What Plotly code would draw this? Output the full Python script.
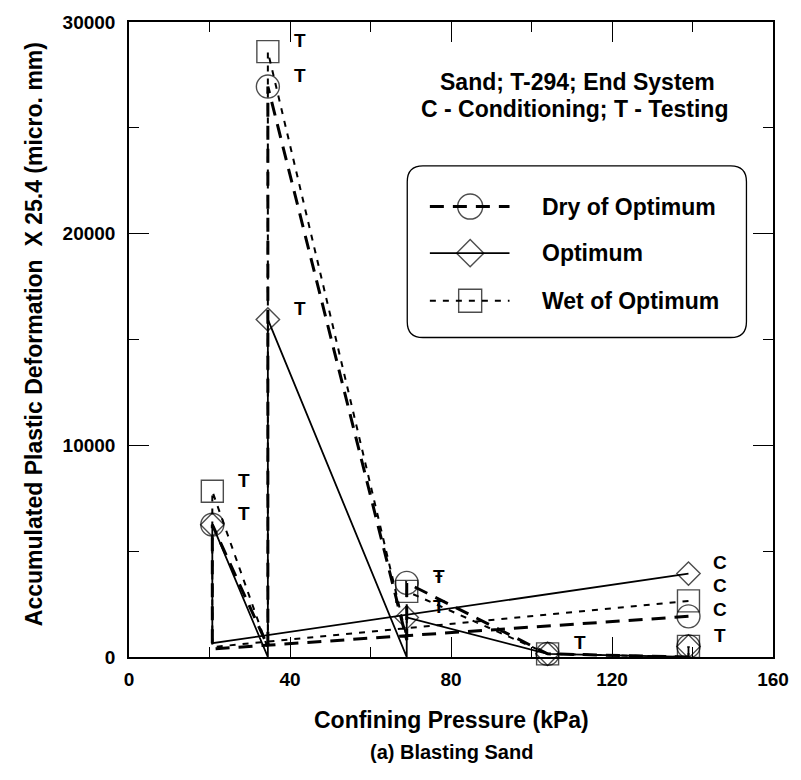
import plotly.graph_objects as go

# ---------------- data ----------------
# Each series is the test path: conditioning point (C) at the highest
# confining pressure, then start / end (T) of each testing sequence.
DRY_X = [139.0, 20.7, 20.7, 34.5, 34.5, 69.0, 69.0, 104.0, 139.0, 139.0]
DRY_Y = [1920, 380, 6250, 500, 26950, 800, 3500, 150, 0, 500]
DRY_TAG = ["C", "", "T", "", "T", "", "T", "T", "", "T"]

OPT_X = [139.0, 20.7, 20.7, 34.5, 34.5, 69.0, 69.0, 104.0, 139.0, 139.0]
OPT_Y = [3940, 650, 6250, 0, 15950, 0, 1870, 150, 0, 500]
OPT_TAG = ["C", "", "T", "", "T", "", "T", "T", "", "T"]

WET_X = [139.0, 20.7, 20.7, 34.5, 34.5, 69.0, 69.0, 104.0, 139.0, 139.0]
WET_Y = [2650, 470, 7830, 400, 28600, 900, 3100, 150, 0, 500]
WET_TAG = ["C", "", "T", "", "T", "", "T", "T", "", "T"]

SERIES_NAMES = ["Dry of Optimum", "Optimum", "Wet of Optimum"]
X_TICKS = [0, 40, 80, 120, 160]
Y_TICKS = [0, 10000, 20000, 30000]
X_RANGE = [0, 160]
Y_RANGE = [0, 30000]

# ---------------- styling ----------------
FONT = "Liberation Sans, Arial, Helvetica, sans-serif"
W, H = 801, 780
L, R, T, B = 129, 17, 17, 123  # plot area 129..784 x 17..657
PW, PH = W - L - R, H - T - B

styles = [
    dict(dash="14px,9px", width=3.0, symbol="circle-open", size=23),
    dict(dash="solid", width=1.8, symbol="diamond-open", size=18),
    dict(dash="6px,7px", width=2.0, symbol="square-open", size=22),
]
series = [(DRY_X, DRY_Y, DRY_TAG), (OPT_X, OPT_Y, OPT_TAG), (WET_X, WET_Y, WET_TAG)]

def ypx(v):
    return T + PH * (1 - (v - Y_RANGE[0]) / (Y_RANGE[1] - Y_RANGE[0]))

fig = go.Figure()
labels = []
for (xs, ys, tags), st, name in zip(series, styles, SERIES_NAMES):
    fig.add_trace(go.Scatter(
        x=xs, y=ys, mode="lines+markers", name=name, showlegend=False,
        line=dict(color="black", width=st["width"], dash=st["dash"]),
        marker=dict(symbol=st["symbol"],
                    size=[st["size"] if t else 0 for t in tags],
                    color="black", line=dict(color="black", width=1.4)),
        cliponaxis=False,
    ))
    for x, y, t in zip(xs, ys, tags):
        if t:
            labels.append((x, y, t))

# Point labels: coincident labels print once (bold look), two close "T"s
# print overstruck, close "C"s are stacked.
annotations = []
label_font = dict(family=FONT, size=19, color="black", weight="bold")
used = [False] * len(labels)
for i, (x, y, t) in enumerate(labels):
    if used[i]:
        continue
    group = [j for j, (x2, y2, t2) in enumerate(labels)
             if not used[j] and x2 == x and t2 == t and abs(ypx(y2) - ypx(y)) < 24]
    for j in group:
        used[j] = True
    pys = sorted(ypx(labels[j][1]) for j in group)
    spread = pys[-1] - pys[0]
    if spread < 4:
        entries = [(pys[0], t)]
    elif t == "T":
        entries = [((pys[0] + pys[-1]) / 2, "\u0166")]
    else:
        mid = (pys[0] + pys[-1]) / 2
        entries = [(mid - 12, t), (mid + 12, t)]
    for py, txt in entries:
        annotations.append(dict(
            x=x, y=1 - (py - T) / PH, xref="x", yref="paper", text=txt,
            xanchor="center", yanchor="middle",
            showarrow=False, xshift=32, yshift=11, font=label_font))

# ---------------- custom legend (pixel-coordinate overlay axes) ----------------
LEG_ROWS = [203, 250, 298]
leg_marker_size = [25, 21, 23]
for row, st, name, msz in zip(LEG_ROWS, styles, SERIES_NAMES, leg_marker_size):
    fig.add_trace(go.Scatter(
        x=[435, 476, 516], y=[row, row, row], xaxis="x2", yaxis="y2",
        mode="lines+markers", showlegend=False, hoverinfo="skip",
        line=dict(color="black", width=st["width"], dash=st["dash"]),
        marker=dict(symbol=st["symbol"], size=[0, msz, 0], color="black",
                    line=dict(color="black", width=1.4)),
    ))
    annotations.append(dict(
        x=547, y=row, xref="x2", yref="y2", text=name, showarrow=False,
        xanchor="left", yanchor="middle",
        font=dict(family=FONT, size=23, color="black", weight="bold")))

x0, y0, x1, y1, rr = 412, 162, 757, 335, 16
box_path = (f"M {x0+rr},{y0} L {x1-rr},{y0} Q {x1},{y0} {x1},{y0+rr} "
            f"L {x1},{y1-rr} Q {x1},{y1} {x1-rr},{y1} L {x0+rr},{y1} "
            f"Q {x0},{y1} {x0},{y1-rr} L {x0},{y0+rr} Q {x0},{y0} {x0+rr},{y0} Z")

# ---------------- text blocks ----------------
annotations += [
    dict(x=585, y=77, xref="x2", yref="y2", text="Sand; T-294; End System",
         xanchor="center", yanchor="middle",
         showarrow=False, font=dict(family=FONT, size=23, color="black", weight="bold")),
    dict(x=582, y=105, xref="x2", yref="y2", text="C - Conditioning; T - Testing",
         xanchor="center", yanchor="middle",
         showarrow=False, font=dict(family=FONT, size=23, color="black", weight="bold")),
    dict(x=0.5, y=-(720 - 657) / PH, xref="paper", yref="paper",
         text="Confining Pressure (kPa)", showarrow=False,
         xanchor="center", yanchor="middle",
         font=dict(family=FONT, size=23, color="black", weight="bold")),
    dict(x=0.5, y=-(753 - 657) / PH, xref="paper", yref="paper",
         text="(a) Blasting Sand", showarrow=False,
         xanchor="center", yanchor="middle",
         font=dict(family=FONT, size=20, color="black", weight="bold")),
    dict(x=-(L - 32) / PW, y=(657 - 332) / PH, xref="paper", yref="paper",
         text="Accumulated Plastic Deformation  X 25.4 (micro. mm)",
         showarrow=False, textangle=-90, xanchor="center", yanchor="middle",
         font=dict(family=FONT, size=23, color="black", weight="bold")),
]

axis_common = dict(
    showline=True, linecolor="black", linewidth=1.5, mirror="ticks",
    ticks="inside", ticklen=20, tickwidth=1.2, tickcolor="black",
    showgrid=False, zeroline=False,
    tickfont=dict(family=FONT, size=19, color="black", weight="bold"),
)

fig.update_layout(
    width=W, height=H,
    margin=dict(l=L, r=R, t=T, b=B),
    paper_bgcolor="white", plot_bgcolor="white",
    showlegend=False,
    xaxis=dict(range=X_RANGE, tickvals=X_TICKS, ticktext=[str(v) for v in X_TICKS],
               ticklabelstandoff=4,
               minor=dict(dtick=20, ticks="inside", ticklen=10, tickcolor="black"),
               **axis_common),
    yaxis=dict(range=Y_RANGE, tickvals=Y_TICKS, ticktext=[str(v) for v in Y_TICKS],
               ticklabelstandoff=8,
               minor=dict(dtick=5000, ticks="inside", ticklen=10, tickcolor="black"),
               **axis_common),
    xaxis2=dict(range=[L, W - R], overlaying="x", visible=False, fixedrange=True),
    yaxis2=dict(range=[H - B, T], overlaying="y", visible=False, fixedrange=True),
    shapes=[dict(type="path", path=box_path, xref="x2", yref="y2",
                 line=dict(color="black", width=1.3), fillcolor="rgba(0,0,0,0)")],
    annotations=annotations,
)

fig.write_html("out.html")
